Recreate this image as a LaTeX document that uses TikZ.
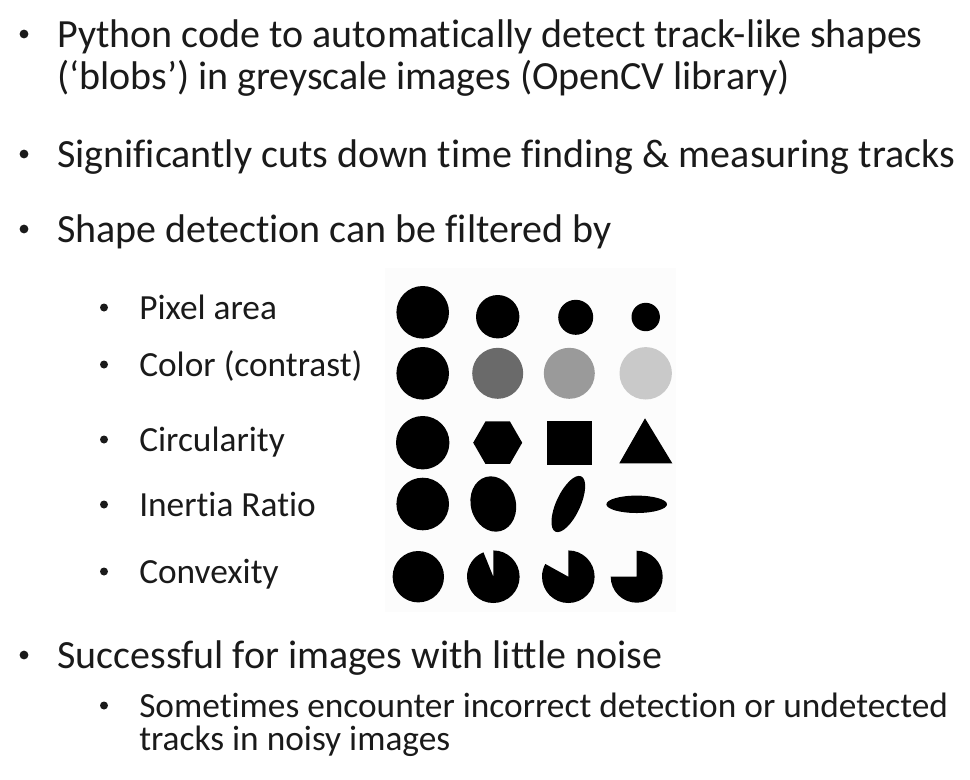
\documentclass[tikz,border=0pt]{standalone}
\usepackage{fontspec}
\setmainfont{Carlito}[Ligatures=NoCommon]
\usepackage{tikz}
\usetikzlibrary{positioning}
\definecolor{SlideInk}{HTML}{1A1A1A}
\definecolor{BlobDark}{HTML}{6A6A6A}
\definecolor{BlobMid}{HTML}{9A9A9A}
\definecolor{BlobLight}{HTML}{C9C9C9}
\definecolor{PanelBg}{HTML}{FCFCFC}

\begin{document}
\begin{tikzpicture}[x=0.75pt,y=-0.75pt]
  \useasboundingbox (0,0) rectangle (970,779);
  \tikzset{
    mainfont/.style={font=\fontsize{30}{36}\selectfont,text=SlideInk,inner sep=0pt},
    subfont/.style={font=\fontsize{26.5}{32}\selectfont,text=SlideInk,inner sep=0pt},
    dot/.style={circle,fill=SlideInk,inner sep=0pt,minimum size=#1}
  }
  \def\mainitem#1#2#3{
    \node[dot=6.6pt] (#1b) at (24,#2-13) {};
    \node[mainfont,anchor=base west] (#1) at (57,#2) {#3};
  }
  \def\filteritem#1#2#3{
    \node[dot=6pt] (#1b) at (104,#2-11.5) {};
    \node[subfont,anchor=base west] (#1) at (139,#2) {#3};
  }
  % bullet text
  \mainitem{code}{47}{Python code to automatically detect track-like shapes}
  \node[mainfont,anchor=base west] (codetwo) at (57,89) {(‘blobs’) in greyscale images (OpenCV library)};
  \mainitem{time}{167}{Significantly cuts down time finding \& measuring tracks}
  \mainitem{filter}{242}{Shape detection can be filtered by}
  \filteritem{area}{319}{Pixel area}
  \filteritem{color}{376}{Color (contrast)}
  \filteritem{circ}{451}{Circularity}
  \filteritem{inertia}{516}{Inertia Ratio}
  \filteritem{convex}{583}{Convexity}
  \mainitem{noise}{668}{Successful for images with little noise}
  \filteritem{wrong}{717}{Sometimes encounter incorrect detection or undetected}
  \node[subfont,anchor=base west] (wrongtwo) at (139,750) {tracks in noisy images};

  % blob panel
  \fill[PanelBg] (385,268) rectangle (676,612);
  % pixel area
  \fill[black] (422.7,312.3) circle[radius=26.3];
  \fill[black] (497.7,316.7) circle[radius=21.7];
  \fill[black] (575.7,317.3) circle[radius=17.5];
  \fill[black] (645.7,317) circle[radius=14.2];
  % colour
  \fill[black] (422.7,373.3) circle[radius=26.3];
  \fill[BlobDark] (497.7,373.3) circle[radius=25.5];
  \fill[BlobMid] (569.3,373.3) circle[radius=25.5];
  \fill[BlobLight] (645.7,373.3) circle[radius=26.2];
  % circularity
  \fill[black] (422.7,442.7) circle[radius=26.7];
  \fill[black] (497.7,442.7) ++(0:24.5) -- ++(120:24.5) -- ++(180:24.5)
    -- ++(240:24.5) -- ++(300:24.5) -- ++(0:24.5) -- cycle;
  \fill[black] (547.3,420.7) rectangle (591.7,464.7);
  \fill[black] (645,418.3) -- (672.3,463.3) -- (619.3,463.3) -- cycle;
  % inertia ratio
  \fill[black] (422.7,504) circle[radius=26.3];
  \fill[black] (493.3,504) ellipse[x radius=22.5, y radius=28, rotate=15];
  \fill[black] (568.3,504) ellipse[x radius=12, y radius=30.5, rotate=-25];
  \fill[black] (636.7,504.3) ellipse[x radius=30.3, y radius=8.7];
  % convexity
  \fill[black] (418.3,576.7) circle[radius=25.7];
  \fill[black] (493.3,576.7) -- ++(270:26.3) arc[start angle=270, end angle=608, radius=26.3] -- cycle;
  \fill[black] (568.3,576.7) -- ++(270:26.3) arc[start angle=270, end angle=569, radius=26.3] -- cycle;
  \fill[black] (636.7,576.7) -- ++(270:26) arc[start angle=270, end angle=540, radius=26] -- cycle;
\end{tikzpicture}
\end{document}
